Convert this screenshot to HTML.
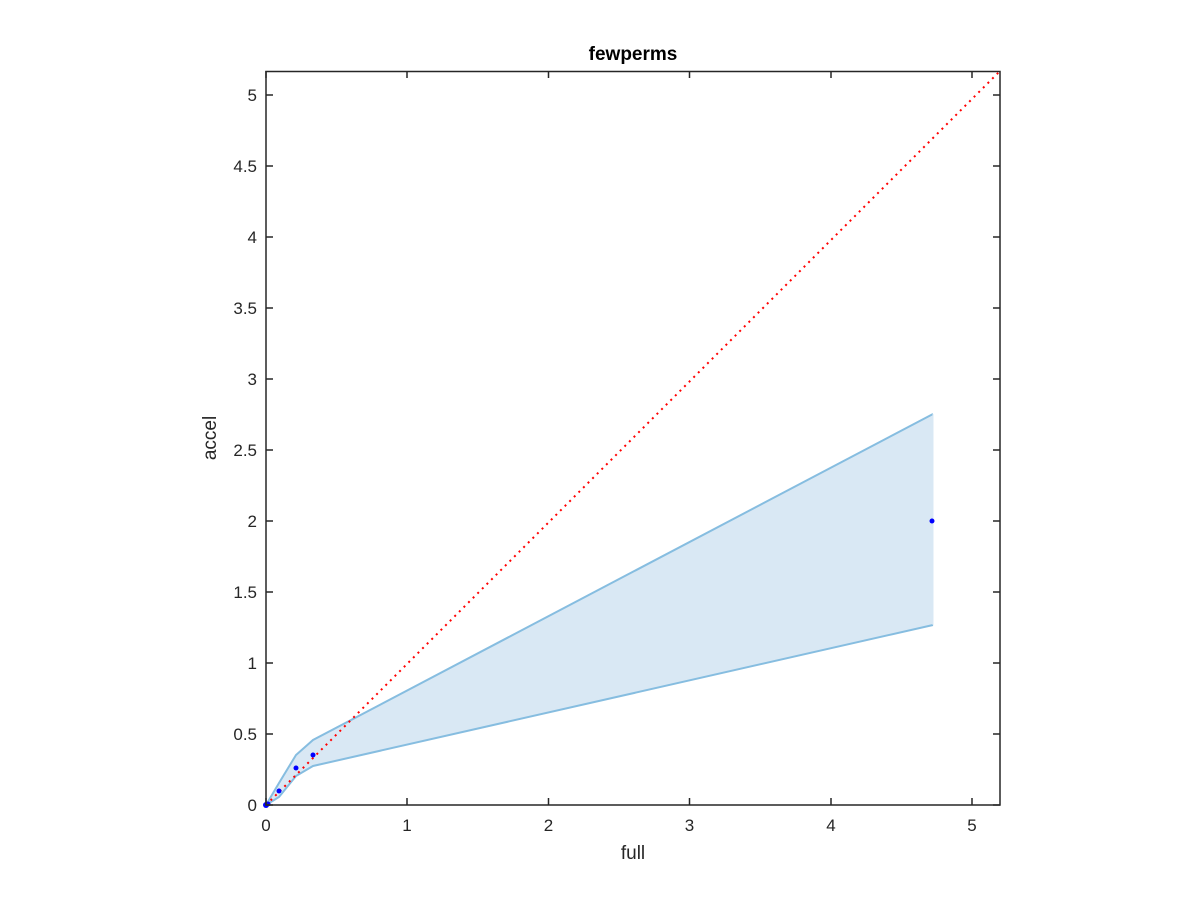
<!DOCTYPE html>
<html><head><style>body{margin:0;background:#fff}svg{display:block}text{font-family:"Liberation Sans",sans-serif;fill:#262626}</style></head>
<body>
<svg width="1200" height="900" viewBox="0 0 1200 900" xmlns="http://www.w3.org/2000/svg">
<rect width="1200" height="900" fill="#fff"/>
<polygon points="266,805 279,783 296,755 313,740 933,414 933,625 313,766 296,776 279,797" fill="#d9e8f4"/>
<polyline points="266,805 279,783 296,755 313,740 933,414" fill="none" stroke="#86bde0" stroke-width="2"/>
<polyline points="266,805 279,797 296,776 313,766 933,625" fill="none" stroke="#86bde0" stroke-width="2"/>
<line x1="933" y1="414" x2="933" y2="625" stroke="#d9e8f4" stroke-width="1"/>
<line x1="266" y1="805" x2="1000" y2="71" stroke="#ff0000" stroke-width="2" stroke-dasharray="2,4.5"/>
<g fill="#0000ff">
<circle cx="266" cy="805" r="3"/><circle cx="268" cy="804" r="2.5"/><circle cx="279" cy="791" r="2.5"/><circle cx="296" cy="768" r="2.5"/><circle cx="313" cy="755" r="2.5"/><circle cx="932" cy="521" r="2.5"/>
</g>
<g stroke="#262626" stroke-width="1.5" fill="none">
<rect x="266" y="71.5" width="734" height="733.5"/>
<path d="M266,805h7M1000,805h-7M266,734h7M1000,734h-7M266,663h7M1000,663h-7M266,592h7M1000,592h-7M266,521h7M1000,521h-7M266,450h7M1000,450h-7M266,379h7M1000,379h-7M266,308h7M1000,308h-7M266,237h7M1000,237h-7M266,166h7M1000,166h-7M266,95h7M1000,95h-7"/>
<path d="M266,805v-7M266,71v7M407,805v-7M407,71v7M548.5,805v-7M548.5,71v7M689.5,805v-7M689.5,71v7M831,805v-7M831,71v7M972,805v-7M972,71v7"/>
</g>
<g font-size="17" text-anchor="end">
<text x="257" y="811">0</text><text x="257" y="740">0.5</text><text x="257" y="669">1</text><text x="257" y="598">1.5</text><text x="257" y="527">2</text><text x="257" y="456">2.5</text><text x="257" y="385">3</text><text x="257" y="314">3.5</text><text x="257" y="243">4</text><text x="257" y="172">4.5</text><text x="257" y="101">5</text>
</g>
<g font-size="17" text-anchor="middle">
<text x="266" y="831">0</text><text x="407" y="831">1</text><text x="548.5" y="831">2</text><text x="689.5" y="831">3</text><text x="831" y="831">4</text><text x="972" y="831">5</text>
<text x="633" y="859" font-size="19">full</text>
<text x="633" y="60" font-size="19" font-weight="bold" style="fill:#000">fewperms</text>
<text transform="translate(216,438) rotate(-90)" font-size="19">accel</text>
</g>
</svg>
</body></html>
